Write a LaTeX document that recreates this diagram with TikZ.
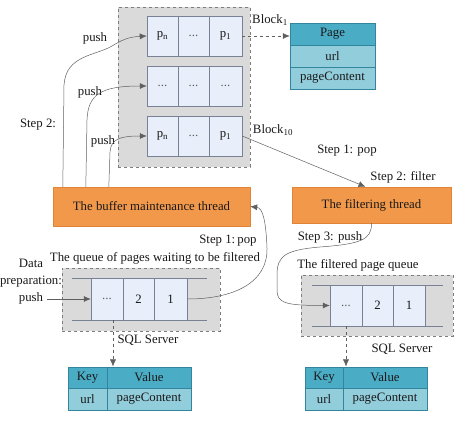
\documentclass[tikz,border=0pt]{standalone}
\usepackage{fontspec}
\setmainfont{Liberation Serif}
\usetikzlibrary{arrows.meta,calc}
\definecolor{orng}{RGB}{242,152,74}
\definecolor{orngb}{RGB}{226,132,56}
\definecolor{contfill}{RGB}{218,218,218}
\definecolor{contdraw}{RGB}{125,125,125}
\definecolor{cellfill}{RGB}{233,239,250}
\definecolor{celldraw}{RGB}{120,130,148}
\definecolor{tealdark}{RGB}{75,172,198}
\definecolor{teallight}{RGB}{146,205,220}
\definecolor{tealdraw}{RGB}{49,133,156}
\definecolor{lgray}{RGB}{95,95,95}
\definecolor{txt}{RGB}{25,25,25}
\tikzset{
  container/.style={draw=contdraw, dashed, fill=contfill, line width=0.6pt, inner sep=0pt},
  cell/.style={draw=celldraw, fill=cellfill, line width=0.5pt, inner sep=0pt, text=txt},
  thread/.style={fill=orng, draw=orngb, line width=0.4pt, inner sep=0pt, text=txt},
  tdark/.style={fill=tealdark, draw=tealdraw, line width=0.5pt, inner sep=0pt, minimum height=22pt, text=txt},
  tlight/.style={fill=teallight, draw=tealdraw, line width=0.5pt, inner sep=0pt, minimum height=22pt, text=txt},
  lbl/.style={inner sep=0pt, text=txt},
  arr/.style={draw=lgray, line width=0.5pt, -{Latex[length=7pt,width=6pt]}},
  darr/.style={draw=lgray, line width=0.5pt, dashed, -{Latex[length=7pt,width=6pt]}},
  qline/.style={draw=celldraw, line width=0.6pt},
  dots/.style={text=lgray}
}
\begin{document}
\begin{tikzpicture}[x=1pt,y=-1pt, font=\fontsize{12.8}{15}\selectfont]
\useasboundingbox (0,0) rectangle (456,422);

% buffer block container
\node[container, minimum width=132pt, minimum height=160pt] (buf) at (184,87) {};
\node[cell, minimum width=31pt, minimum height=40pt] (r1a) at (162.5,36) {p\textsubscript{n}};
\node[cell, minimum width=31pt, minimum height=40pt] (r1b) at (193.5,36) {\textcolor{lgray}{...}};
\node[cell, minimum width=33pt, minimum height=40pt] (r1c) at (225.5,36) {p\textsubscript{1}};
\node[cell, minimum width=31pt, minimum height=40pt] (r2a) at (162.5,86) {\textcolor{lgray}{...}};
\node[cell, minimum width=31pt, minimum height=40pt] (r2b) at (193.5,86) {\textcolor{lgray}{...}};
\node[cell, minimum width=33pt, minimum height=40pt] (r2c) at (225.5,86) {\textcolor{lgray}{...}};
\node[cell, minimum width=31pt, minimum height=40pt] (r3a) at (162.5,136) {p\textsubscript{n}};
\node[cell, minimum width=31pt, minimum height=40pt] (r3b) at (193.5,136) {\textcolor{lgray}{...}};
\node[cell, minimum width=33pt, minimum height=40pt] (r3c) at (225.5,136) {p\textsubscript{1}};

% page table
\node[tdark, minimum width=85pt] (pg) at (332.5,34) {Page};
\node[tlight, minimum width=85pt] (pu) at (332.5,56) {url};
\node[tlight, minimum width=85pt] (pc) at (332.5,78) {pageContent};

\node[lbl] (b1) at (270,20) {Block\textsubscript{1}};
\node[lbl] (b10) at (273,130) {Block\textsubscript{10}};

% threads
\node[thread, minimum width=197pt, minimum height=39pt] (bt) at (151.5,206.5) {The buffer maintenance thread};
\node[thread, minimum width=159pt, minimum height=36pt] (ft) at (371.5,205) {The filtering thread};

% queue 1
\node[container, minimum width=158pt, minimum height=63pt] (q1) at (141,299.5) {};
\draw[qline] (72,278) -- (207,278);
\draw[qline] (72,320) -- (207,320);
\node[cell, minimum width=32pt, minimum height=42pt] (q1a) at (107,299) {\textcolor{lgray}{...}};
\node[cell, minimum width=31pt, minimum height=42pt] (q1b) at (138.5,299) {2};
\node[cell, minimum width=33pt, minimum height=42pt] (q1c) at (170.5,299) {1};

% queue 2
\node[container, minimum width=152pt, minimum height=61pt] (q2) at (377,305.5) {};
\draw[qline] (312,285) -- (443,285);
\draw[qline] (312,326) -- (443,326);
\node[cell, minimum width=32pt, minimum height=41pt] (q2a) at (346,305.5) {\textcolor{lgray}{...}};
\node[cell, minimum width=31pt, minimum height=41pt] (q2b) at (377.5,305.5) {2};
\node[cell, minimum width=32pt, minimum height=41pt] (q2c) at (409,305.5) {1};

% key/value tables
\node[tdark, minimum width=39pt, minimum height=21pt] (k1) at (87.5,377.5) {Key};
\node[tdark, minimum width=84pt, minimum height=21pt] (v1) at (149,377.5) {Value};
\node[tlight, minimum width=39pt, minimum height=22pt] (k1b) at (87.5,399) {url};
\node[tlight, minimum width=84pt, minimum height=22pt] (v1b) at (149,399) {pageContent};

\node[tdark, minimum width=38pt, minimum height=21pt] (k2) at (324,377.5) {Key};
\node[tdark, minimum width=84pt, minimum height=21pt] (v2) at (385,377.5) {Value};
\node[tlight, minimum width=38pt, minimum height=22pt] (k2b) at (324,399) {url};
\node[tlight, minimum width=84pt, minimum height=22pt] (v2b) at (385,399) {pageContent};

% labels
\node[lbl] (l1) at (95,38) {push};
\node[lbl] (l2) at (90,92) {push};
\node[lbl] (l3) at (103,141) {push};
\node[lbl] (s2) at (38,125) {Step 2:};
\node[lbl] (s1p) at (347,151) {Step 1: pop};
\node[lbl] (s2f) at (403,177) {Step 2: filter};
\node[lbl] (s1pb) at (228,241) {Step 1:\,pop};
\node[lbl] (qt1) at (155,258) {The queue of pages waiting to be filtered};
\node[lbl, align=center, font=\fontsize{12.8}{17}\selectfont] (dp) at (31,282) {Data\\preparation:\\push};
\node[lbl] (qt2) at (358,265) {The filtered page queue};
\node[lbl] (s3) at (330,237) {Step 3: push};
\node[lbl] (sq1) at (148,340) {SQL Server};
\node[lbl] (sq2) at (402,349) {SQL Server};

% connectors
\draw[arr] ([xshift=10pt]bt.north west) -- (64,85) .. controls (66,55) and (95,56) .. (112,46) .. controls (122,40) and (128,37) .. (r1a.west);
\draw[arr] ([xshift=33pt]bt.north west) -- (87,120) .. controls (88,95) and (100,86) .. (r2a.west);
\draw[arr] ([xshift=56pt]bt.north west) -- (110,152) .. controls (111,139) and (120,136) .. (r3a.west);

\draw[darr] (r1c.east) -- (r1c.east -| pg.west);
\draw[arr] (r3c.east) -- ([xshift=-6pt]ft.north);

\draw[arr] (q1c.east) .. controls (235,299) and (268,282) .. (267,248) .. controls (266,222) and (263,208) .. (bt.east);
\draw[arr] ([xshift=0pt]ft.south) .. controls (372,240) and (360,244) .. (320,247) .. controls (285,250) and (277,256) .. (277,275) -- (277,290) .. controls (277,303) and (285,305.5) .. (q2a.west);

\coordinate (dpin) at (47,299);
\draw[arr] (dpin) -- (q1a.west);

\draw[darr] (113,320) -- (113,366.5);
\draw[darr] (346,326) -- (346,366.5);
\end{tikzpicture}
\end{document}
